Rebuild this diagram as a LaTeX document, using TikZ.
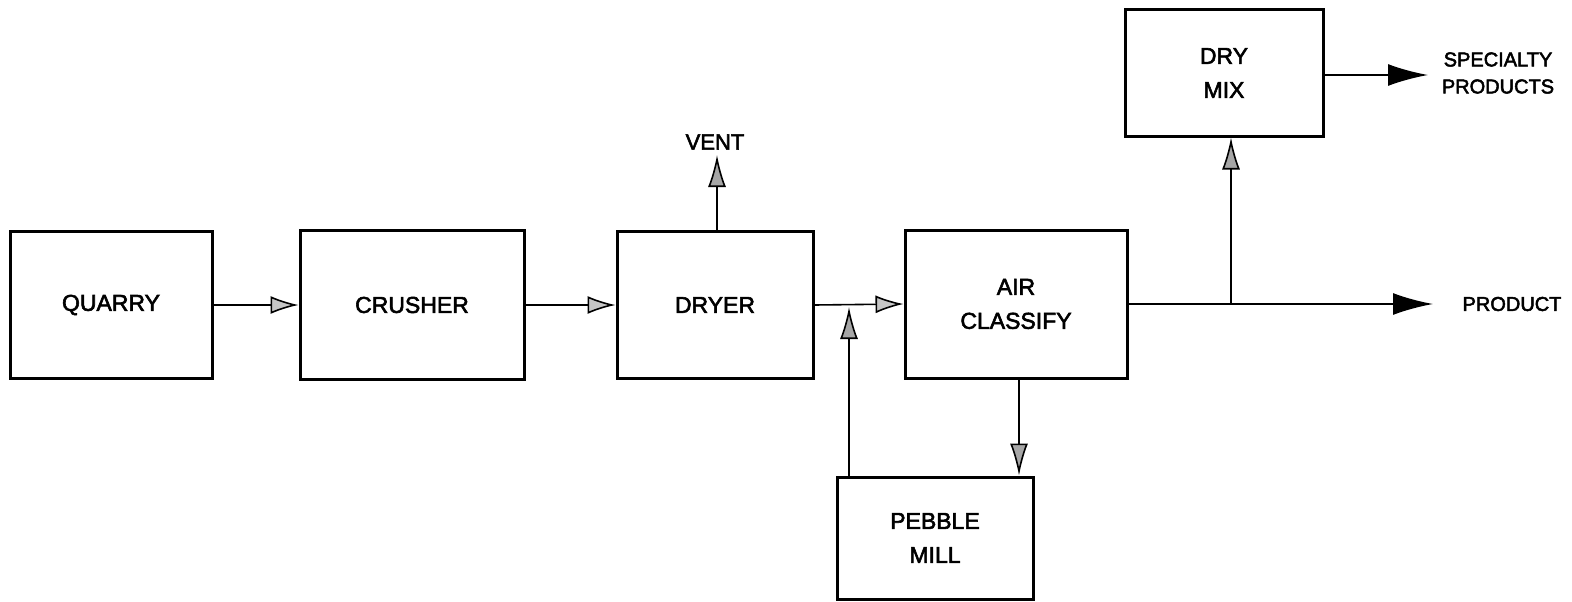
\documentclass[tikz,border=0pt]{standalone}
\usepackage{fontspec}
\setmainfont{Liberation Sans}[FakeBold=2.5]
\usetikzlibrary{arrows.meta}
\begin{document}
\begin{tikzpicture}[x=1pt,y=1pt,
  box/.style={draw, line width=3pt, inner sep=0pt, align=center, font=\fontsize{23}{34}\selectfont},
  lbl/.style={inner sep=0pt, align=center, font=\fontsize{20}{27}\selectfont},
  flow/.style={line width=1.6pt, -{Latex[length=28pt,width=18pt,fill=gray!45]}},
  flowdark/.style={line width=1.6pt, -{Latex[length=32pt,width=18pt,fill=gray!70]}},
  outarrow/.style={line width=2pt, -{Latex[length=40pt,width=22pt]}}]
\useasboundingbox (0,0) rectangle (1572,-602);
\node[box, minimum width=202pt, minimum height=147pt] (quarry) at (111,-305) {QUARRY};
\node[box, minimum width=224pt, minimum height=149pt] (crusher) at (412,-305) {CRUSHER};
\node[box, minimum width=196pt, minimum height=147pt] (dryer) at (715,-305) {DRYER};
\node[box, minimum width=222pt, minimum height=148pt] (air) at (1016,-304) {AIR\\CLASSIFY};
\node[box, minimum width=198pt, minimum height=126pt] (drymix) at (1224,-73) {DRY\\MIX};
\node[box, minimum width=196pt, minimum height=122pt] (pebble) at (935,-538) {PEBBLE\\MILL};
\node[lbl, font=\fontsize{22}{27}\selectfont] (vent) at (715,-142) {VENT};
\node[lbl] (product) at (1512,-304) {PRODUCT};
\node[lbl] (special) at (1498,-73) {SPECIALTY\\PRODUCTS};
\coordinate (venttip) at (717,-155);
\coordinate (join) at (849,-307);
\coordinate (branch) at (1231,-304);
\coordinate (prodtip) at (1433,-304);
\coordinate (spectip) at (1428,-75);
\draw[flow] (quarry.east) -- (crusher.west);
\draw[flow] (crusher.east) -- (dryer.west);
\draw[flow] (dryer.east) -- (air.west);
\draw[flowdark] (dryer.north -| venttip) -- (venttip);
\draw[flowdark] (pebble.north -| join) -- (join);
\draw[flowdark] ([xshift=3pt]air.south) -- ([xshift=3pt]air.south |- pebble.north);
\draw[outarrow] (air.east) -- (prodtip);
\draw[flowdark] (branch) -- (branch |- drymix.south);
\draw[outarrow] (drymix.east |- spectip) -- (spectip);
\end{tikzpicture}
\end{document}
